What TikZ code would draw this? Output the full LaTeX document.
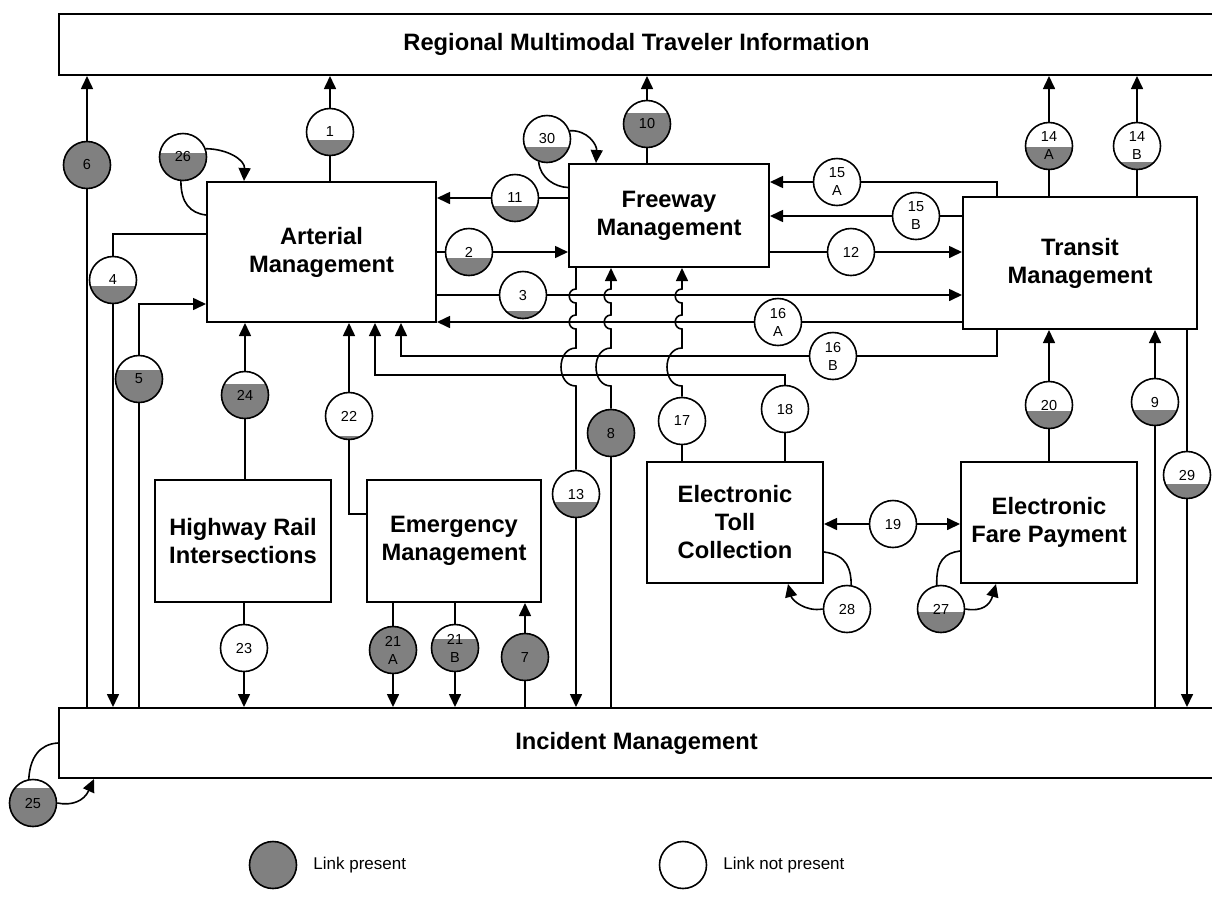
\documentclass[tikz,border=0pt]{standalone}
\usepackage{fontspec}
\setmainfont{Liberation Sans}
\usetikzlibrary{arrows.meta,positioning}
\definecolor{linkgray}{RGB}{128,128,128}
\tikzset{
    >={Triangle[length=13pt,width=12pt]},
    sys/.style={draw, line width=2pt, inner sep=0pt, align=center,
        font=\fontsize{23.7}{28}\selectfont\bfseries},
    lnk/.style={circle, draw, fill=white, minimum size=47pt, inner sep=0pt,
        align=center, font=\fontsize{14.5}{18}\selectfont,
        path picture={\fill[linkgray] (path picture bounding box.south west)
            rectangle ([yshift=#1]path picture bounding box.south east);}},
    lnk/.default=0pt,
    legtext/.style={font=\fontsize{17}{20}\selectfont}
}
\begin{document}
\begin{tikzpicture}[x=1pt, y=-1pt, line width=1.6pt]
        \useasboundingbox (0,0) rectangle (1212,903);

        \node[sys, minimum width=1155pt, minimum height=61pt] (RMTI) at (636.5,44.5) {Regional Multimodal Traveler Information};
        \node[sys, minimum width=229pt, minimum height=140pt] (AM) at (321.5,252) {Arterial\\Management};
        \node[sys, minimum width=200pt, minimum height=103pt] (FM) at (669,215.5) {Freeway\\Management};
        \node[sys, minimum width=234pt, minimum height=132pt] (TM) at (1080,263) {Transit\\Management};
        \node[sys, minimum width=176pt, minimum height=122pt] (HRI) at (243,541) {Highway Rail\\Intersections};
        \node[sys, minimum width=174pt, minimum height=122pt] (EM) at (454,541) {Emergency\\Management};
        \node[sys, minimum width=176pt, minimum height=121pt] (ETC) at (735,522.5) {Electronic\\Toll\\Collection};
        \node[sys, minimum width=176pt, minimum height=121pt] (EFP) at (1049,522.5) {Electronic\\Fare Payment};
        \node[sys, minimum width=1155pt, minimum height=70pt] (IM) at (636.5,743) {Incident Management};

        \node[lnk=16pt] (L1) at (330,132) {1};
        \node[lnk=18pt] (L2) at (469,252) {2};
        \node[lnk=8pt] (L3) at (523,295) {3};
        \node[lnk=18pt] (L4) at (113,280) {4};
        \node[lnk=33pt] (L5) at (139,379) {5};
        \node[lnk=47pt] (L6) at (87,165) {6};
        \node[lnk=47pt] (L7) at (525,657) {7};
        \node[lnk=47pt] (L8) at (611,433) {8};
        \node[lnk=16pt] (L9) at (1155,402) {9};
        \node[lnk=35pt] (L10) at (647,124) {10};
        \node[lnk=16pt] (L11) at (515,198) {11};
        \node[lnk] (L12) at (851,252) {12};
        \node[lnk=16pt] (L13) at (576,494) {13};
        \node[lnk=23pt] (L14A) at (1049,146) {14\\A};
        \node[lnk=8pt] (L14B) at (1137,146) {14\\B};
        \node[lnk] (L15A) at (837,182) {15\\A};
        \node[lnk] (L15B) at (916,216) {15\\B};
        \node[lnk] (L16A) at (778,322) {16\\A};
        \node[lnk] (L16B) at (833,356) {16\\B};
        \node[lnk] (L17) at (682,421) {17};
        \node[lnk] (L18) at (785,409) {18};
        \node[lnk] (L19) at (893,524) {19};
        \node[lnk=18pt] (L20) at (1049,405) {20};
        \node[lnk=47pt] (L21A) at (393,650) {21\\A};
        \node[lnk=33pt] (L21B) at (455,648) {21\\B};
        \node[lnk=4pt] (L22) at (349,416) {22};
        \node[lnk] (L23) at (244,648) {23};
        \node[lnk=35pt] (L24) at (245,395) {24};
        \node[lnk=39pt] (L25) at (33,803) {25};
        \node[lnk=28pt] (L26) at (183,157) {26};
        \node[lnk=21pt] (L27) at (941,609) {27};
        \node[lnk] (L28) at (847,609) {28};
        \node[lnk=15pt] (L29) at (1187,475) {29};
        \node[lnk=16pt] (L30) at (547,139) {30};

        \draw (AM.north -| L1) -- (L1);
        \draw[->] (L1) -- (L1 |- RMTI.south);
        \draw (AM.east |- L2) -- (L2);
        \draw[->] (L2) -- (L2 -| FM.west);
        \draw (AM.east |- L3) -- (L3);
        \draw[->] (L3) -- (L3 -| TM.west);
        \draw ([yshift=18pt]AM.west) -| (L4);
        \draw[->] (L4) -- (L4 |- IM.north);
        \draw (IM.north -| L5) -- (L5);
        \draw[->] (L5) |- ([yshift=-52pt]AM.west);
        \draw (IM.north -| L6) -- (L6);
        \draw[->] (L6) -- (L6 |- RMTI.south);
        \draw (IM.north -| L7) -- (L7);
        \draw[->] (L7) -- (L7 |- EM.south);
        \draw (IM.north -| L8) -- (L8);
        \draw[->] (L8) -- (611,386) .. controls (591,386) and (591,348) .. (611,348) -- (611,329)
            .. controls (602,329) and (602,315) .. (611,315) -- (611,303)
            .. controls (602,303) and (602,289) .. (611,289) -- (FM.south -| L8);
        \draw (IM.north -| L9) -- (L9);
        \draw[->] (L9) -- (L9 |- TM.south);
        \draw (FM.north -| L10) -- (L10);
        \draw[->] (L10) -- (L10 |- RMTI.south);
        \draw (FM.west |- L11) -- (L11);
        \draw[->] (L11) -- (L11 -| AM.east);
        \draw (FM.east |- L12) -- (L12);
        \draw[->] (L12) -- (L12 -| TM.west);
        \draw (FM.south -| L13) -- (576,289) .. controls (567,289) and (567,303) .. (576,303) -- (576,315)
            .. controls (567,315) and (567,329) .. (576,329) -- (576,348)
            .. controls (556,348) and (556,386) .. (576,386) -- (L13);
        \draw[->] (L13) -- (L13 |- IM.north);
        \draw (TM.north -| L14A) -- (L14A);
        \draw[->] (L14A) -- (L14A |- RMTI.south);
        \draw (TM.north -| L14B) -- (L14B);
        \draw[->] (L14B) -- (L14B |- RMTI.south);
        \draw ([xshift=-83pt]TM.north) |- (L15A);
        \draw[->] (L15A) -- (L15A -| FM.east);
        \draw (TM.west |- L15B) -- (L15B);
        \draw[->] (L15B) -- (L15B -| FM.east);
        \draw (TM.west |- L16A) -- (L16A);
        \draw[->] (L16A) -- (L16A -| AM.east);
        \draw ([xshift=-83pt]TM.south) |- (L16B);
        \draw[->] (L16B) -| ([xshift=79.5pt]AM.south);
        \draw (ETC.north -| L17) -- (L17);
        \draw[->] (L17) -- (682,386) .. controls (662,386) and (662,348) .. (682,348) -- (682,329)
            .. controls (673,329) and (673,315) .. (682,315) -- (682,303)
            .. controls (673,303) and (673,289) .. (682,289) -- (FM.south -| L17);
        \draw (ETC.north -| L18) -- (L18);
        \draw[->] (L18) |- ([xshift=53.5pt,yshift=-52pt]AM.south) -- ([xshift=53.5pt]AM.south);
        \draw[->] (L19) -- (L19 -| ETC.east);
        \draw[->] (L19) -- (L19 -| EFP.west);
        \draw (EFP.north -| L20) -- (L20);
        \draw[->] (L20) -- (L20 |- TM.south);
        \draw (EM.south -| L21A) -- (L21A);
        \draw[->] (L21A) -- (L21A |- IM.north);
        \draw (EM.south -| L21B) -- (L21B);
        \draw[->] (L21B) -- (L21B |- IM.north);
        \draw[->] (L22) -- (L22 |- AM.south);
        \draw (L22) |- ([yshift=27pt]EM.west);
        \draw (HRI.south -| L23) -- (L23);
        \draw[->] (L23) -- (L23 |- IM.north);
        \draw (HRI.north -| L24) -- (L24);
        \draw[->] (L24) -- (L24 |- AM.south);
        \draw (L25.100) .. controls (30,757) and (40,744) .. (IM.west);
        \draw[->] (L25.east) .. controls (72,806) and (84,801) .. ([xshift=36pt]IM.south west);
        \draw (L26.265) .. controls (181,203) and (190,213) .. ([yshift=37pt]AM.west);
        \draw[->] (L26.20) .. controls (228,149) and (245,160) .. ([xshift=38pt]AM.north west);
        \draw (L27.100) .. controls (936,560) and (945,553) .. ([yshift=-28.5pt]EFP.west);
        \draw[->] (L27.east) .. controls (982,612) and (990,605) .. ([xshift=36pt]EFP.south west);
        \draw ([yshift=-29.5pt]ETC.east) .. controls (848,555) and (851,570) .. (L28.80);
        \draw[->] (L28.west) .. controls (805,612) and (792,600) .. ([xshift=-36pt]ETC.south east);
        \draw (TM.south -| L29) -- (L29);
        \draw[->] (L29) -- (L29 |- IM.north);
        \draw (L30.250) .. controls (540,178) and (555,187) .. ([yshift=28pt]FM.west);
        \draw[->] (L30.20) .. controls (588,130) and (597,145) .. ([xshift=28pt]FM.north west);

        \node[lnk=47pt] (P) at (273,865) {};
        \node[legtext, right=12pt of P] (Ptext) {Link present};
        \node[lnk] (N) at (683,865) {};
        \node[legtext, right=12pt of N] (Ntext) {Link not present};
\end{tikzpicture}
\end{document}
